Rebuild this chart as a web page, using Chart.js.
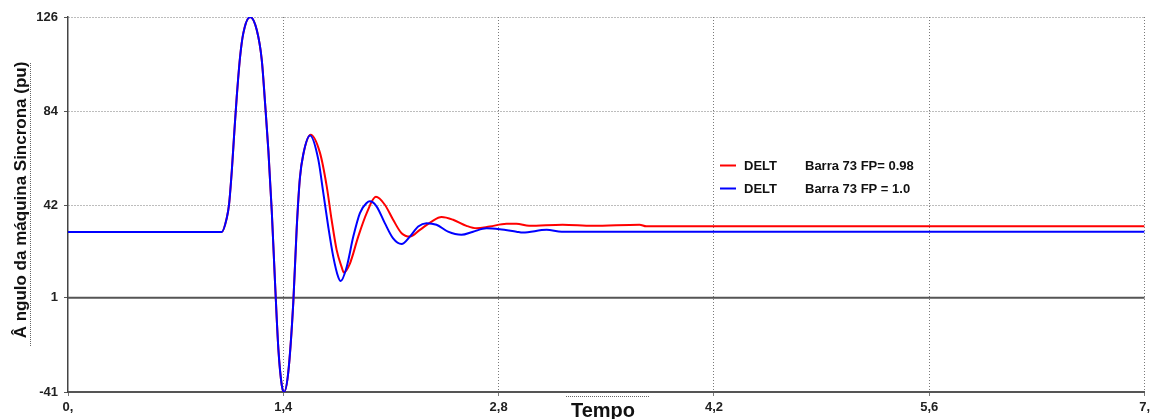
<!DOCTYPE html>
<html>
<head>
<meta charset="utf-8">
<script src="https://cdn.jsdelivr.net/npm/chart.js@4.4.1/dist/chart.umd.min.js"></script>
<style>
  html, body { margin: 0; padding: 0; background: #fff; }
  #wrap { width: 1154px; height: 419px; }
</style>
</head>
<body>
<div id="wrap"><canvas id="chart" width="1154" height="419"></canvas></div>
<script>
// Axis ticks
const xTicks = [0, 1.4, 2.8, 4.2, 5.6, 7];
const xTickLabels = ['0,', '1,4', '2,8', '4,2', '5,6', '7,'];
const yTicks = [-41, 1, 42, 84, 126];

// DELT Barra 73 FP = 1.0 (blue)
const blueTime = [0, 1.0, 1.032, 1.047, 1.065, 1.082, 1.097, 1.119, 1.14, 1.184, 1.227, 1.26, 1.281, 1.303, 1.325,
  1.346, 1.368, 1.39, 1.405, 1.432, 1.465, 1.487, 1.508, 1.53, 1.574, 1.627, 1.66, 1.692, 1.725, 1.757, 1.773,
  1.812, 1.855, 1.898, 1.942, 1.963, 2.006, 2.06, 2.114, 2.169, 2.223, 2.277, 2.331, 2.396, 2.471, 2.558,
  2.634, 2.721, 2.807, 2.916, 2.957, 3.112, 3.21, 7];
const blueValues = [30.3, 30.3, 36.4, 42.4, 57.4, 75.4, 90.3, 108.3, 118.8, 126, 120.3, 106.8, 88, 66.4, 39.4,
  8, -22, -38, -41, -32.4, -1, 31.9, 54.4, 64.9, 73.2, 62.7, 47.7, 32.7, 19.2, 10.2, 8.4,
  14.7, 28.2, 38.7, 43.2, 43.9, 41.7, 34.2, 27.4, 24.9, 28.2, 32.7, 34.2, 33.5, 30.4, 29.0,
  30.4, 31.9, 31.5, 30.4, 30.0, 31.2, 30.4, 30.4];

// DELT Barra 73 FP= 0.98 (red)
const redTime = [0, 1.0, 1.032, 1.047, 1.065, 1.082, 1.097, 1.119, 1.14, 1.184, 1.227, 1.26, 1.281, 1.303, 1.325,
  1.346, 1.368, 1.39, 1.405, 1.432, 1.465, 1.487, 1.508, 1.53, 1.578, 1.638, 1.682, 1.714, 1.747, 1.779, 1.794,
  1.833, 1.887, 1.942, 2.002, 2.06, 2.114, 2.169, 2.223, 2.288, 2.364, 2.429, 2.504, 2.591, 2.656, 2.742,
  2.851, 2.916, 2.998, 3.216, 3.411, 3.716, 3.76, 7];
const redValues = [30.3, 30.3, 36.4, 42.4, 57.4, 75.4, 90.3, 108.3, 118.8, 126, 120.3, 106.8, 88, 66.4, 39.4,
  8, -22, -38, -41, -32.4, -1, 31.9, 54.4, 64.9, 73.6, 65.6, 50.7, 35.7, 22.2, 14.7, 12.2,
  16.2, 28.2, 38.7, 45.9, 42.4, 35.7, 29.7, 28.2, 31.2, 34.9, 36.9, 35.7, 33.0, 31.9, 32.7,
  33.9, 33.9, 33, 33.5, 33, 33.5, 32.8, 32.8];

const seriesLabels = ['DELT      Barra 73 FP = 1.0', 'DELT      Barra 73 FP= 0.98'];
const seriesColors = ['#0000ff', '#ff0000'];

function toPoints(ts, vs) {
  return ts.map((t, i) => ({ x: t, y: vs[i] }));
}

// Extra drawing: solid line at 1, axis titles and legend box
const decorations = {
  id: 'decorations',
  beforeDatasetsDraw(chart) {
    const { ctx, chartArea, scales } = chart;
    const y1 = scales.y.getPixelForValue(1);
    ctx.save();
    ctx.strokeStyle = '#555';
    ctx.lineWidth = 2;
    ctx.beginPath();
    ctx.moveTo(chartArea.left, y1);
    ctx.lineTo(chartArea.right, y1);
    ctx.stroke();
    ctx.restore();
  },
  afterDraw(chart) {
    const { ctx } = chart;
    ctx.save();
    ctx.fillStyle = '#111';

    // y title
    ctx.save();
    ctx.translate(26, 200);
    ctx.rotate(-Math.PI / 2);
    ctx.font = 'bold 17px "Liberation Sans", Arial, sans-serif';
    ctx.textAlign = 'center';
    ctx.textBaseline = 'alphabetic';
    ctx.fillText('\u00C2 ngulo da m\u00E1quina Sincrona (pu)', 0, 0);
    ctx.restore();
    ctx.strokeStyle = '#666';
    ctx.lineWidth = 1;
    ctx.setLineDash([1, 1]);
    ctx.beginPath();
    ctx.moveTo(30.5, 63);
    ctx.lineTo(30.5, 347);
    ctx.stroke();

    // x title
    ctx.font = 'bold 20px "Liberation Sans", Arial, sans-serif';
    ctx.textAlign = 'center';
    ctx.fillText('Tempo', 603, 417);
    ctx.beginPath();
    ctx.moveTo(566, 396.5);
    ctx.lineTo(650, 396.5);
    ctx.stroke();

    // legend
    ctx.setLineDash([]);
    ctx.font = 'bold 13px "Liberation Sans", Arial, sans-serif';
    ctx.textAlign = 'left';
    ctx.textBaseline = 'middle';
    const rows = [[seriesColors[1], 'DELT', 'Barra 73 FP= 0.98', 165.5], [seriesColors[0], 'DELT', 'Barra 73 FP = 1.0', 188.5]];
    rows.forEach(([c, a, b, y]) => {
      ctx.strokeStyle = c;
      ctx.lineWidth = 2;
      ctx.beginPath();
      ctx.moveTo(720, y);
      ctx.lineTo(736, y);
      ctx.stroke();
      ctx.fillStyle = '#111';
      ctx.fillText(a, 744, y + 1);
      ctx.fillText(b, 805, y + 1);
    });
    ctx.restore();
  }
};

const tickFont = { family: '"Liberation Sans", Arial, sans-serif', size: 13, weight: 'bold' };

new Chart(document.getElementById('chart').getContext('2d'), {
  type: 'line',
  data: {
    datasets: [
      {
        label: seriesLabels[0],
        data: toPoints(blueTime, blueValues),
        borderColor: seriesColors[0],
        borderWidth: 2,
        pointRadius: 0,
        fill: false,
        cubicInterpolationMode: 'monotone'
      },
      {
        label: seriesLabels[1],
        data: toPoints(redTime, redValues),
        borderColor: seriesColors[1],
        borderWidth: 2,
        pointRadius: 0,
        fill: false,
        cubicInterpolationMode: 'monotone'
      }
    ]
  },
  options: {
    responsive: false,
    animation: false,
    layout: { padding: { left: 0, right: 8, top: 17, bottom: 0 } },
    plugins: {
      legend: { display: false },
      tooltip: { enabled: false }
    },
    scales: {
      x: {
        type: 'linear',
        min: 0,
        max: 7,
        afterBuildTicks: (scale) => { scale.ticks = xTicks.map(v => ({ value: v })); },
        afterFit: (scale) => { scale.height = 27; },
        ticks: {
          autoSkip: false,
          maxRotation: 0,
          padding: 4,
          color: '#222',
          font: tickFont,
          callback: (v, i) => xTickLabels[i]
        },
        grid: {
          color: (c) => (c.tick && c.tick.value === 0 ? 'transparent' : '#7a7a7a'),
          lineWidth: 1,
          tickLength: 4,
          tickColor: '#7a7a7a',
          tickBorderDash: []
        },
        border: { display: true, color: '#555', width: 2, dash: [1, 2] }
      },
      y: {
        min: -41,
        max: 126,
        afterBuildTicks: (scale) => { scale.ticks = yTicks.map(v => ({ value: v })); },
        afterFit: (scale) => { scale.width = 68; },
        ticks: {
          autoSkip: false,
          padding: 6,
          color: '#222',
          font: tickFont
        },
        grid: {
          color: (c) => (c.tick && (c.tick.value === 1 || c.tick.value === -41) ? 'transparent' : '#7a7a7a'),
          lineWidth: 1,
          tickLength: 4,
          tickColor: '#555',
          tickBorderDash: []
        },
        border: { display: true, color: '#444', width: 1.5, dash: [1, 2] }
      }
    }
  },
  plugins: [decorations]
});
</script>
</body>
</html>
